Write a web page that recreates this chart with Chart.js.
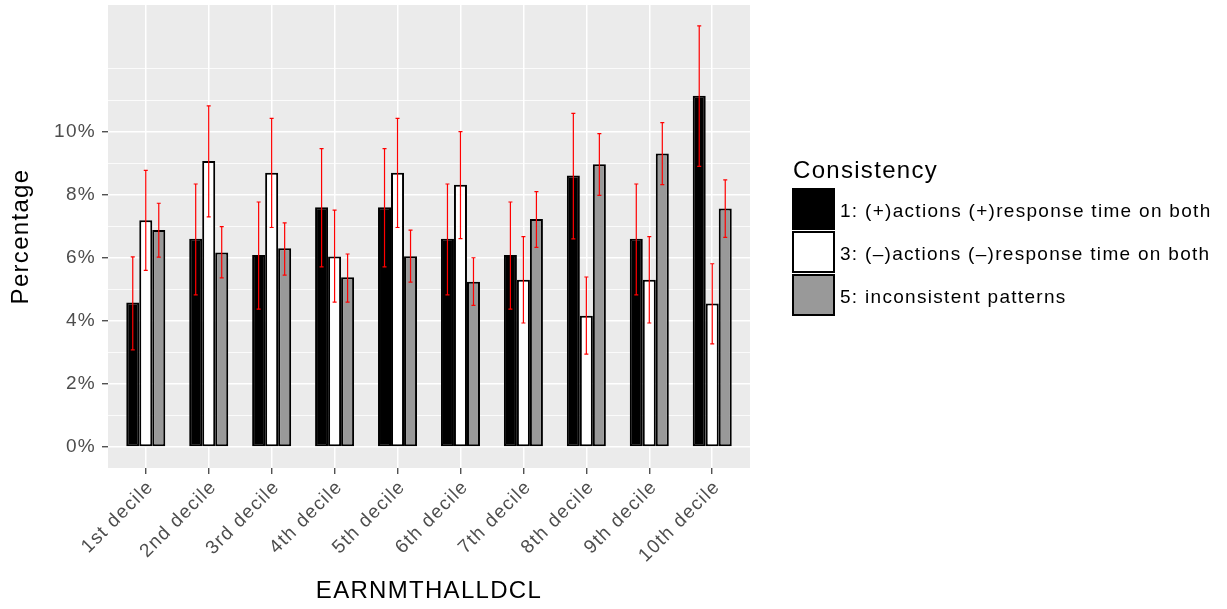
<!DOCTYPE html>
<html>
<head>
<meta charset="utf-8">
<script src="https://cdn.jsdelivr.net/npm/chart.js@4.4.1/dist/chart.umd.min.js"></script>
<style>
    html, body { margin: 0; padding: 0; background: #fff; }
</style>
</head>
<body>
<canvas id="chart" width="1227" height="609"></canvas>
<script>
var categories = ['1st decile', '2nd decile', '3rd decile', '4th decile', '5th decile',
    '6th decile', '7th decile', '8th decile', '9th decile', '10th decile'];
var seriesNames = ['1: (+)actions (+)response time on both',
    '3: (\u2013)actions (\u2013)response time on both',
    '5: inconsistent patterns'];
var legendTitle = 'Consistency';

// percentages per decile
var posBoth = [4.58, 6.60, 6.09, 7.60, 7.60, 6.60, 6.09, 8.61, 6.60, 11.14];
var negBoth = [7.19, 9.07, 8.70, 6.04, 8.70, 8.32, 5.30, 4.16, 5.30, 4.55];
var inconsistent = [6.88, 6.17, 6.30, 5.38, 6.05, 5.24, 7.23, 8.97, 9.31, 7.56];

// error bar ends
var posLo = [3.08, 4.82, 4.37, 5.71, 5.71, 4.82, 4.37, 6.60, 4.82, 8.90];
var posHi = [6.03, 8.34, 7.77, 9.46, 9.46, 8.34, 7.77, 10.58, 8.34, 13.36];
var negLo = [5.60, 7.30, 6.96, 4.59, 6.96, 6.61, 3.93, 2.94, 3.93, 3.27];
var negHi = [8.77, 10.82, 10.42, 7.51, 10.42, 10.00, 6.67, 5.39, 6.67, 5.81];
var incLo = [6.02, 5.36, 5.45, 4.59, 5.23, 4.49, 6.33, 7.98, 8.32, 6.65];
var incHi = [7.73, 6.99, 7.11, 6.12, 6.88, 6.00, 8.10, 9.94, 10.29, 8.47];

var yLabelled = [0, 2, 4, 6, 8, 10];
var yMin = -0.67;
var yMax = 14.02;

var FONT = '"Liberation Sans", Arial, Helvetica, sans-serif';

function toPoints(values) {
    return values.map(function (v, i) { return { x: i + 1, y: v }; });
}

function isMajor(v) {
    return yLabelled.indexOf(v) !== -1;
}

var panelBg = {
    id: 'panelBg',
    beforeLayout: function (chart) {
        chart.ctx.letterSpacing = '1.3px';
    },
    beforeDraw: function (chart) {
        var a = chart.chartArea;
        var ctx = chart.ctx;
        ctx.save();
        ctx.fillStyle = '#EBEBEB';
        ctx.fillRect(a.left, a.top, a.right - a.left, a.bottom - a.top);
        ctx.restore();
    }
};

var errorBars = {
    id: 'errorBars',
    afterDatasetsDraw: function (chart) {
        var ctx = chart.ctx;
        var y = chart.scales.y;
        ctx.save();
        ctx.strokeStyle = '#FF0000';
        ctx.lineWidth = 1.2;
        chart.data.datasets.forEach(function (ds, i) {
            chart.getDatasetMeta(i).data.forEach(function (bar, j) {
                var top = y.getPixelForValue(ds.errHi[j]);
                var bot = y.getPixelForValue(ds.errLo[j]);
                ctx.beginPath();
                ctx.moveTo(bar.x, top);
                ctx.lineTo(bar.x, bot);
                ctx.moveTo(bar.x - 2, top);
                ctx.lineTo(bar.x + 2, top);
                ctx.moveTo(bar.x - 2, bot);
                ctx.lineTo(bar.x + 2, bot);
                ctx.stroke();
            });
        });
        ctx.restore();
    }
};

var keyLegend = {
    id: 'keyLegend',
    afterDraw: function (chart) {
        var ctx = chart.ctx;
        var x = 793;
        var top = 189;
        ctx.save();
        ctx.textAlign = 'left';
        ctx.textBaseline = 'alphabetic';
        ctx.fillStyle = '#000';
        ctx.font = '24px ' + FONT;
        ctx.fillText(legendTitle, x, 178);
        ctx.font = '19px ' + FONT;
        chart.data.datasets.forEach(function (ds, i) {
            var y0 = top + i * 43;
            ctx.fillStyle = ds.backgroundColor;
            ctx.fillRect(x, y0, 41, 40);
            ctx.strokeStyle = '#000';
            ctx.lineWidth = 2;
            ctx.strokeRect(x, y0, 41, 40);
            ctx.fillStyle = '#000';
            ctx.fillText(ds.label, 840, y0 + 28);
        });
        ctx.restore();
    }
};

var ctx = document.getElementById('chart').getContext('2d');
var chart = new Chart(ctx, {
    type: 'bar',
    data: {
        datasets: [
            { label: seriesNames[0], data: toPoints(posBoth), errLo: posLo, errHi: posHi, backgroundColor: '#000000' },
            { label: seriesNames[1], data: toPoints(negBoth), errLo: negLo, errHi: negHi, backgroundColor: '#FFFFFF' },
            { label: seriesNames[2], data: toPoints(inconsistent), errLo: incLo, errHi: incHi, backgroundColor: '#999999' }
        ]
    },
    options: {
        responsive: false,
        animation: false,
        layout: { padding: { top: 5, right: 477, bottom: 0, left: 0 } },
        datasets: {
            bar: {
                categoryPercentage: 0.62,
                barPercentage: 1,
                borderColor: '#000000',
                borderWidth: 2,
                borderSkipped: false
            }
        },
        plugins: {
            legend: { display: false },
            tooltip: { enabled: false }
        },
        scales: {
            x: {
                type: 'linear',
                min: 0.4,
                max: 10.6,
                offset: false,
                ticks: {
                    stepSize: 1,
                    includeBounds: false,
                    autoSkip: false,
                    minRotation: 45,
                    maxRotation: 45,
                    labelOffset: 5,
                    color: '#4D4D4D',
                    font: { family: FONT, size: 19 },
                    padding: 2,
                    callback: function (v) { return categories[v - 1]; }
                },
                grid: {
                    offset: false,
                    color: '#FFFFFF',
                    lineWidth: 1.5,
                    tickColor: '#333333',
                    tickLength: 6,
                    tickWidth: 1.2
                },
                border: { display: false },
                title: {
                    display: true,
                    text: 'EARNMTHALLDCL',
                    color: '#000000',
                    font: { family: FONT, size: 24 },
                    padding: { top: 0, bottom: 3 }
                },
                afterFit: function (s) {
                    s.height = 141;
                    s.paddingLeft = 0;
                    s.paddingRight = 0;
                }
            },
            y: {
                min: yMin,
                max: yMax,
                ticks: {
                    stepSize: 1,
                    includeBounds: false,
                    autoSkip: false,
                    maxTicksLimit: 30,
                    color: '#4D4D4D',
                    font: { family: FONT, size: 19 },
                    padding: 6,
                    callback: function (v) { return isMajor(v) ? v + '%' : ''; }
                },
                grid: {
                    color: function (c) { return c.tick && c.tick.value > 12 ? 'rgba(0,0,0,0)' : '#FFFFFF'; },
                    lineWidth: function (c) { return c.tick && isMajor(c.tick.value) ? 1.5 : 0.8; },
                    tickColor: function (c) { return c.tick && isMajor(c.tick.value) ? '#333333' : 'rgba(0,0,0,0)'; },
                    tickLength: 6,
                    tickWidth: 1.2
                },
                border: { display: false },
                title: {
                    display: true,
                    text: 'Percentage',
                    color: '#000000',
                    font: { family: FONT, size: 24 },
                    padding: { top: 7, bottom: 0 }
                },
                afterFit: function (s) {
                    s.width = 108;
                    s.paddingTop = 0;
                    s.paddingBottom = 0;
                }
            }
        }
    },
    plugins: [panelBg, errorBars, keyLegend]
});
</script>
</body>
</html>
